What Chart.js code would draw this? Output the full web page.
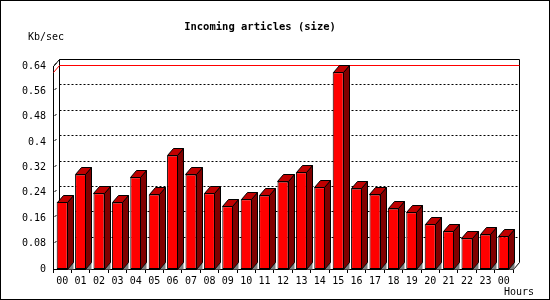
<!DOCTYPE html>
<html>
<head>
<meta charset="utf-8">
<script src="https://cdn.jsdelivr.net/npm/chart.js@4"></script>
<style>
  body { margin: 0; background: #fff; }
  #wrap { width: 550px; height: 300px; }
</style>
</head>
<body>
<div id="wrap"><canvas id="chart" width="550" height="300"></canvas></div>
<script>
// data
const hours = ['00', '01', '02', '03', '04', '05', '06', '07', '08', '09', '10', '11',
    '12', '13', '14', '15', '16', '17', '18', '19', '20', '21', '22', '23', '00'];
const kbPerSec = [0.212, 0.298, 0.239, 0.210, 0.289, 0.235, 0.358, 0.298, 0.239, 0.198,
    0.220, 0.232, 0.276, 0.305, 0.258, 0.620, 0.254, 0.235, 0.191, 0.179,
    0.141, 0.119, 0.097, 0.109, 0.103];
const yTickLabels = ['0', '0.08', '0.16', '0.24', '0.32', '0.4', '0.48', '0.56', '0.64'];
const yStep = 0.08;
const yMax = 0.64;

const FONT = '"DejaVu Sans Mono", monospace';
const DX = 6, DY = 7; // depth of the 3d look

const threeD = {
    id: 'threeD',
    beforeDraw(chart) {
        const ctx = chart.ctx;
        ctx.save();
        ctx.fillStyle = '#fff';
        ctx.fillRect(0, 0, chart.width, chart.height);
        ctx.restore();
    },
    beforeDatasetsDraw(chart) {
        const {ctx, chartArea: a, scales: {y}} = chart;
        const L = Math.round(a.left) + 0.5, R = Math.round(a.right) + 0.5;
        const T = Math.round(a.top) + 0.5, B = Math.round(a.bottom) + 0.5;
        ctx.save();
        ctx.lineWidth = 1;
        ctx.strokeStyle = '#000';
        // grid on the back wall
        ctx.setLineDash([2, 2]);
        for (let i = 1; i < yTickLabels.length - 1; i++) {
            const py = Math.round(y.getPixelForValue(i * yStep)) - DY + 0.5;
            ctx.beginPath();
            ctx.moveTo(L + DX, py);
            ctx.lineTo(R + DX, py);
            ctx.stroke();
        }
        ctx.setLineDash([]);
        // small depth ticks on the front axis
        for (let i = 1; i < yTickLabels.length; i++) {
            const py = Math.round(y.getPixelForValue(i * yStep));
            ctx.beginPath();
            ctx.moveTo(L + 1, py - 1);
            ctx.lineTo(L + 3, py - 3);
            ctx.stroke();
        }
        // back wall frame
        ctx.beginPath();
        ctx.moveTo(L, T);
        ctx.lineTo(L + DX, T - DY);
        ctx.lineTo(R + DX, T - DY);
        ctx.lineTo(R + DX, B - DY);
        ctx.lineTo(R, B);
        ctx.moveTo(L + DX, T - DY);
        ctx.lineTo(L + DX, B - DY);
        ctx.stroke();
        // max value line
        const my = Math.round(y.getPixelForValue(Math.max(...kbPerSec))) + 0.5;
        ctx.strokeStyle = '#ff0000';
        ctx.beginPath();
        ctx.moveTo(L, my);
        ctx.lineTo(L + DX, my - DY);
        ctx.lineTo(R + DX, my - DY);
        ctx.stroke();
        ctx.restore();
    },
    afterDatasetsDraw(chart) {
        const ctx = chart.ctx;
        const meta = chart.getDatasetMeta(0);
        ctx.save();
        ctx.lineWidth = 1;
        ctx.strokeStyle = '#000';
        meta.data.forEach(bar => {
            const p = bar.getProps(['x', 'y', 'width', 'base'], true);
            const l = Math.round(p.x - p.width / 2) + 0.5;
            const r = Math.round(p.x + p.width / 2) - 0.5;
            const t = Math.round(p.y) + 0.5;
            const b = Math.round(p.base) + 0.5;
            // shadow on the floor
            ctx.fillStyle = '#808080';
            ctx.beginPath();
            ctx.moveTo(r, b);
            ctx.lineTo(r + DX, b - DY);
            ctx.lineTo(r + DX, b);
            ctx.closePath();
            ctx.fill();
            // side
            ctx.fillStyle = '#800000';
            ctx.beginPath();
            ctx.moveTo(r, t);
            ctx.lineTo(r + DX, t - DY);
            ctx.lineTo(r + DX, b - DY);
            ctx.lineTo(r, b);
            ctx.closePath();
            ctx.fill();
            ctx.stroke();
            // top
            ctx.fillStyle = '#c00000';
            ctx.beginPath();
            ctx.moveTo(l, t);
            ctx.lineTo(l + DX, t - DY);
            ctx.lineTo(r + DX, t - DY);
            ctx.lineTo(r, t);
            ctx.closePath();
            ctx.fill();
            ctx.stroke();
        });
        ctx.restore();
    },
    afterDraw(chart) {
        const ctx = chart.ctx;
        ctx.save();
        ctx.fillStyle = '#000';
        ctx.textBaseline = 'middle';
        ctx.font = 'bold 10.5px ' + FONT;
        ctx.textAlign = 'center';
        ctx.fillText('Incoming articles (size)', 260, 27);
        ctx.font = '10px ' + FONT;
        ctx.textAlign = 'left';
        ctx.fillText('Kb/sec', 28, 37);
        ctx.fillText('Hours', 504, 292);
        // outer frame
        ctx.strokeStyle = '#000';
        ctx.lineWidth = 1;
        ctx.strokeRect(0.5, 0.5, chart.width - 1, chart.height - 1);
        ctx.restore();
    }
};

const ctx = document.querySelector('#chart').getContext('2d');
const chart = new Chart(ctx, {
    type: 'bar',
    data: {
        labels: hours,
        datasets: [{
            label: 'Kb/sec',
            data: kbPerSec,
            backgroundColor: '#ff0000',
            borderColor: '#000',
            borderWidth: 1,
            borderSkipped: false,
            barPercentage: 0.6,
            categoryPercentage: 1
        }]
    },
    options: {
        responsive: false,
        animation: false,
        layout: {
            padding: {left: 0, top: 66, right: 37, bottom: 0}
        },
        scales: {
            x: {
                afterFit(s) { s.height = 31; },
                grid: {
                    display: true,
                    drawOnChartArea: false,
                    drawTicks: true,
                    tickLength: 4,
                    color: '#000',
                    offset: true
                },
                border: {display: true, color: '#000'},
                ticks: {
                    color: '#000',
                    padding: 2,
                    maxRotation: 0,
                    autoSkip: false,
                    font: {family: FONT, size: 10}
                }
            },
            y: {
                min: 0,
                max: yMax,
                afterFit(s) { s.width = 53; },
                grid: {display: false, drawTicks: false},
                border: {display: true, color: '#000'},
                ticks: {
                    stepSize: yStep,
                    color: '#000',
                    padding: 7,
                    font: {family: FONT, size: 10},
                    callback: (v, i) => yTickLabels[i] ?? v
                }
            }
        },
        plugins: {
            legend: {display: false},
            tooltip: {enabled: false},
            title: {display: false}
        }
    },
    plugins: [threeD]
});
</script>
</body>
</html>
